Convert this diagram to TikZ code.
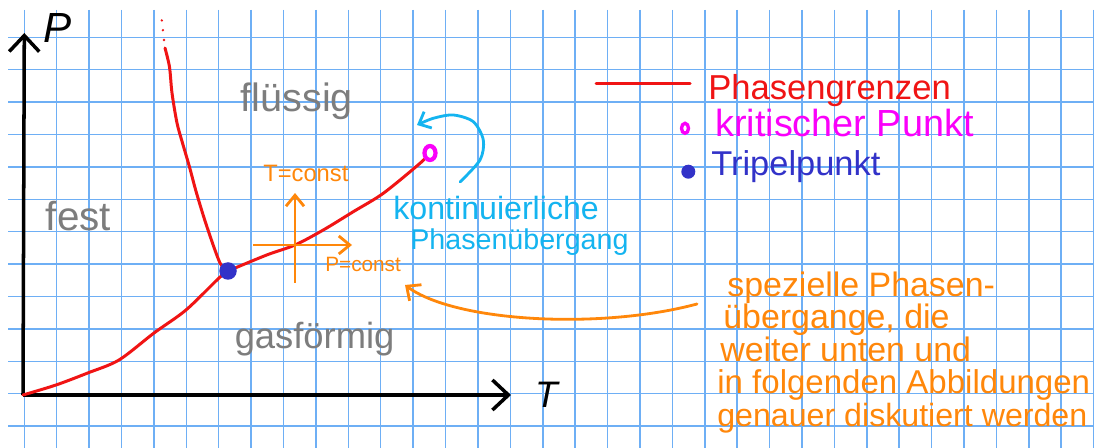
\documentclass[tikz,border=0pt]{standalone}
\usepackage{fontspec}
\setmainfont{Liberation Sans}
\usetikzlibrary{arrows.meta,shapes.geometric}

\definecolor{gridblue}{RGB}{110,175,245}
\definecolor{pengray}{RGB}{125,125,125}
\definecolor{penred}{RGB}{240,20,20}
\definecolor{penmagenta}{RGB}{250,0,250}
\definecolor{penblue}{RGB}{50,50,200}
\definecolor{pencyan}{RGB}{20,180,240}
\definecolor{penorange}{RGB}{255,135,10}
\newcommand{\fsize}[1]{\fontsize{#1}{#1}\selectfont}

\begin{document}
\begin{tikzpicture}[x=0.02cm, y=-0.02cm,
    gridline/.style={gridblue, line width=0.9pt},
    axis/.style={line width=2pt, -{Straight Barb[length=3.2mm,width=6mm]}},
    boundary/.style={penred, line width=1.7pt, line cap=round, line join=round},
    handtext/.style={anchor=base west, inner sep=0pt},
    phase/.style={handtext, pengray, font=\fsize{22.5pt}},
    note/.style={handtext, penorange, font=\fsize{19.3pt}},
    crossarrow/.style={penorange, line width=1.6pt, -{Straight Barb[length=2.2mm,width=3.6mm]}},
    tripel/.style={circle, fill=penblue, inner sep=0pt, minimum size=0.35cm},
    kritisch/.style={ellipse, draw=penmagenta, fill=white, line width=2.4pt, inner sep=0pt,
        minimum width=0.22cm, minimum height=0.28cm}]
    \useasboundingbox (0,0) rectangle (1094,448);
    \fill[white] (0,0) rectangle (1094,448);

    % Kaestchenpapier
    \foreach \k in {0,...,33}
        \draw[gridline] (24.3+32.4*\k,10) -- (24.3+32.4*\k,448);
    \foreach \k in {0,...,12}
        \draw[gridline] (8,37.3+32.4*\k) -- (1094,37.3+32.4*\k);

    % Achsen
    \coordinate (O) at (23,395);
    \coordinate (Pend) at (24.3,33);
    \coordinate (Tend) at (511,395);
    \draw[axis] (O) -- (Pend);
    \draw[axis] (O) -- (Tend);
    \node[font=\fsize{24pt}\itshape, inner sep=0pt] (Plabel) at (58,28) {P};
    \node[font=\fsize{21pt}\itshape, inner sep=0pt] (Tlabel) at (547,395) {T};

    % Phasengrenzen
    \coordinate (tp) at (228,271);
    \coordinate (cp) at (430,153);
    \coordinate (melttop) at (165,48);
    \draw[boundary] plot[smooth] coordinates {(O) (56,385) (87.7,373) (119,360) (154,333) (186,310) (219,278) (tp)};
    \draw[boundary] plot[smooth] coordinates {(tp) (220,263) (207,227) (196.5,193) (189.5,167) (182.5,143) (177,123) (172,93) (169.5,67) (melttop)};
    \draw[boundary] plot[smooth] coordinates {(tp) (266.7,255) (295,245) (323.3,230) (353.3,211.7) (383.3,193.3) (420,163.3) (cp)};
    \coordinate (dotA) at (164,40);
    \coordinate (dotB) at (161.8,20);
    \draw[boundary, line width=1.5pt, dash pattern=on 0pt off 5.6pt] (dotA) -- (dotB);

    \node[tripel] (tpdot) at (tp) {};
    \node[kritisch] (cpdot) at (cp) {};

    % Phasen
    \node[phase, font=\fsize{23pt}] (fest) at (45.6,231) {fest};
    \node[phase] (fluessig) at (240.4,112) {flüssig};
    \node[phase, font=\fsize{20.7pt}] (gas) at (234.4,349) {gasförmig};

    % T=const / P=const
    \coordinate (pleft) at (253,245);
    \coordinate (pright) at (352,245);
    \coordinate (tbot) at (295,283);
    \coordinate (ttop) at (295,193);
    \draw[crossarrow] (pleft) -- (pright);
    \draw[crossarrow] (tbot) -- (ttop);
    \node[handtext, penorange, font=\fsize{13.5pt}] (tconst) at (263,182) {T=const};
    \node[handtext, penorange, font=\fsize{11.8pt}] (pconst) at (325,272) {P=const};

    % kontinuierlicher Uebergang
    \node[handtext, pencyan, font=\fsize{18.3pt}] (kont) at (393,220) {kontinuierliche};
    \node[handtext, pencyan, font=\fsize{16.3pt}] (kontb) at (410,250) {Phasenübergang};
    \coordinate (hookstart) at (460,182);
    \coordinate (hookend) at (417,125);
    \draw[pencyan, line width=1.6pt, line cap=round, -{Straight Barb[length=2mm,width=3.6mm]}]
        plot[smooth] coordinates {(hookstart) (480,160) (483.3,140) (473.3,121.7) (453.3,115) (433.3,118.3) (hookend)};

    % Legende
    \coordinate (legA) at (596,84);
    \coordinate (legB) at (690,84);
    \draw[boundary] (legA) -- (legB);
    \node[handtext, penred, font=\fsize{19.7pt}] (lgrenz) at (708,100) {Phasengrenzen};
    \node[kritisch, line width=1.9pt, minimum width=0.14cm, minimum height=0.2cm] (lkrit) at (685,128.3) {};
    \node[handtext, penmagenta, font=\fsize{21.5pt}] (lkrittext) at (715,137) {kritischer Punkt};
    \node[tripel, minimum size=0.28cm] (ltripel) at (688.3,171.7) {};
    \node[handtext, penblue, font=\fsize{19.6pt}] (ltripeltext) at (711,176) {Tripelpunkt};

    % Hinweis
    \coordinate (notestart) at (697,304);
    \coordinate (noteend) at (405,285);
    \draw[penorange, line width=1.6pt, line cap=round, -{Straight Barb[length=2.2mm,width=4mm]}]
        (notestart) .. controls (600,330) and (455,322) .. (noteend);
    \node[note] (n1) at (727,297) {spezielle Phasen-};
    \node[note] (n2) at (723,329) {übergange, die};
    \node[note] (n3) at (720,361.5) {weiter unten und};
    \node[note, font=\fsize{18.8pt}] (n4) at (717,394) {in folgenden Abbildungen};
    \node[note, font=\fsize{18.3pt}] (n5) at (717,426.5) {genauer diskutiert werden};
\end{tikzpicture}
\end{document}
